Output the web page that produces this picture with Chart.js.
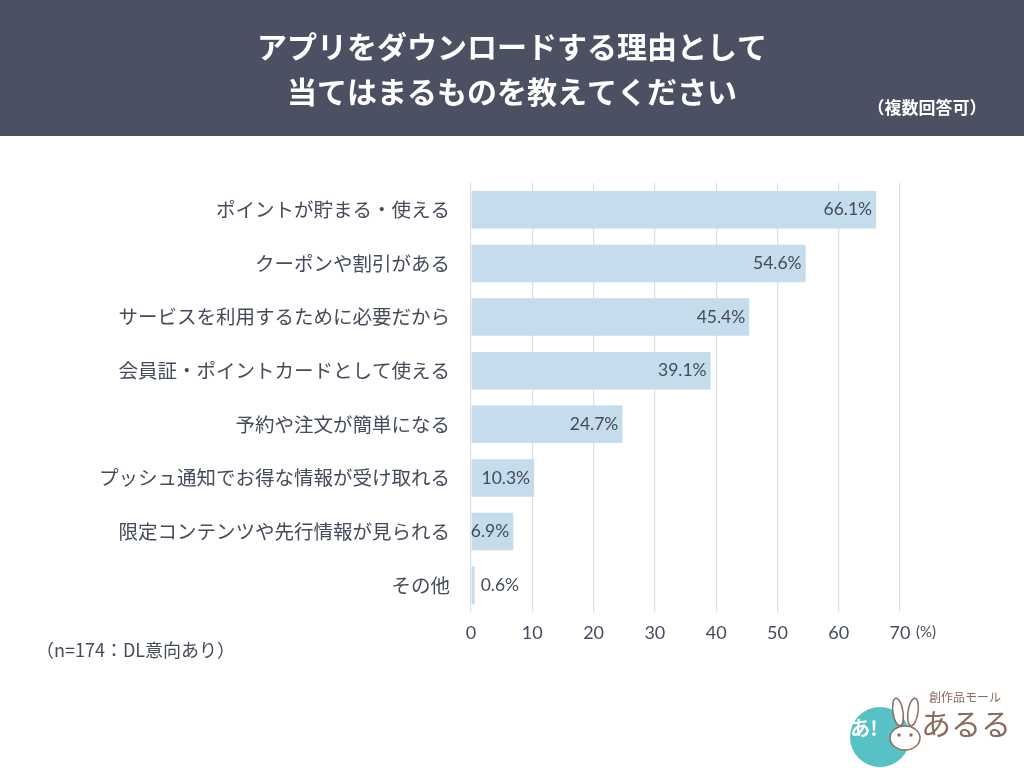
<!DOCTYPE html>
<html lang="ja">
<head>
<meta charset="utf-8">
<title>アプリをダウンロードする理由</title>
<script src="https://cdn.jsdelivr.net/npm/chart.js@4.4.1/dist/chart.umd.min.js"></script>
<style>
  html, body { margin: 0; padding: 0; background: #fff; }
  #wrap { position: relative; width: 1024px; height: 768px; }
</style>
</head>
<body>
<div id="wrap"><canvas id="mycanvas" width="1024" height="768"></canvas></div>
<script>
// data
var reasons = [
  "ポイントが貯まる・使える",
  "クーポンや割引がある",
  "サービスを利用するために必要だから",
  "会員証・ポイントカードとして使える",
  "予約や注文が簡単になる",
  "プッシュ通知でお得な情報が受け取れる",
  "限定コンテンツや先行情報が見られる",
  "その他"
];
var shares = [66.1, 54.6, 45.4, 39.1, 24.7, 10.3, 6.9, 0.6];
var xTicks = [0, 10, 20, 30, 40, 50, 60, 70];

var titleLines = ["アプリをダウンロードする理由として", "当てはまるものを教えてください"];
var titleNote = "（複数回答可）";
var sampleNote = "（n=174：DL意向あり）";

var jp = '"Noto Sans CJK JP", "Noto Sans", sans-serif';
var num = 'Lato, "Noto Sans", sans-serif';
var ink = '#454b5a';

// header band, notes and logo
var decor = {
  id: 'decor',
  beforeDraw: function(chart){
    var c = chart.ctx;
    c.save();
    c.fillStyle = '#fff';
    c.fillRect(0, 0, 1024, 768);
    c.fillStyle = '#4b5162';
    c.fillRect(0, 0, 1024, 136);
    c.fillStyle = '#fff';
    c.textAlign = 'center';
    c.textBaseline = 'middle';
    c.font = 'bold 30px ' + jp;
    c.fillText(titleLines[0], 512, 47);
    c.fillText(titleLines[1], 512, 92);
    c.font = 'bold 17px ' + jp;
    c.fillText(titleNote, 927, 108);
    c.restore();
  },
  afterDraw: function(chart){
    var c = chart.ctx;
    c.save();
    c.fillStyle = ink;
    c.textBaseline = 'middle';
    c.textAlign = 'left';
    c.font = '18px ' + jp;
    c.fillText(sampleNote, 36, 650);
    c.font = '15px ' + num;
    c.fillText('(%)', 916, 632);
    // logo
    c.fillStyle = '#57c1c6';
    c.beginPath();
    c.arc(880, 737, 30, 0, Math.PI * 2);
    c.fill();
    c.fillStyle = '#fff';
    c.font = 'bold 20px ' + jp;
    c.textAlign = 'center';
    c.fillText('あ!', 864, 728);
    // rabbit outline
    c.strokeStyle = '#8b6b5c';
    c.lineWidth = 1.5;
    c.fillStyle = '#fff';
    c.beginPath();
    c.ellipse(898, 712, 5, 14, -0.15, 0, Math.PI * 2);
    c.fill(); c.stroke();
    c.beginPath();
    c.ellipse(913, 712, 5, 14, 0.15, 0, Math.PI * 2);
    c.fill(); c.stroke();
    c.beginPath();
    c.ellipse(905, 738, 15, 12, 0, 0, Math.PI * 2);
    c.fill(); c.stroke();
    c.fillStyle = '#8b6b5c';
    c.beginPath(); c.arc(899, 735, 1.7, 0, Math.PI * 2); c.fill();
    c.beginPath(); c.arc(911, 735, 1.7, 0, Math.PI * 2); c.fill();
    c.font = '12px ' + jp;
    c.fillText('創作品モール', 965, 697);
    c.font = '30px ' + jp;
    c.fillText('あるる', 966, 724);
    c.restore();
  }
};

// value labels at the bar ends
var barLabels = {
  id: 'barLabels',
  afterDatasetsDraw: function(chart){
    var c = chart.ctx;
    var meta = chart.getDatasetMeta(0);
    c.save();
    c.fillStyle = ink;
    c.font = '17.5px ' + num;
    c.textBaseline = 'middle';
    meta.data.forEach(function(bar, i){
      var txt = shares[i].toFixed(1) + '%';
      if (shares[i] < 3) {
        c.textAlign = 'left';
        c.fillText(txt, bar.x + 6, bar.y);
      } else {
        c.textAlign = 'right';
        c.fillText(txt, bar.x - 4, bar.y);
      }
    });
    c.restore();
  }
};

var ctx = document.getElementById('mycanvas');
var barGraph = new Chart(ctx, {
  type: 'bar',
  data: {
    labels: reasons,
    datasets: [{
      data: shares,
      backgroundColor: '#c4dcec',
      barPercentage: 0.7,
      categoryPercentage: 1.0
    }]
  },
  options: {
    indexAxis: 'y',
    responsive: false,
    animation: false,
    layout: { padding: { top: 183, right: 124, bottom: 116, left: 0 } },
    plugins: {
      legend: { display: false },
      title: { display: false },
      tooltip: { enabled: false }
    },
    scales: {
      x: {
        min: 0,
        max: 70,
        afterBuildTicks: function(scale){
          scale.ticks = xTicks.map(function(v){ return { value: v }; });
        },
        afterFit: function(scale){ scale.height = 40; },
        grid: { color: '#dedfe2', drawTicks: false, lineWidth: 1.2 },
        border: { display: false },
        ticks: { color: ink, font: { size: 18, family: num }, padding: 10 }
      },
      y: {
        afterFit: function(scale){ scale.width = 471; },
        grid: { display: false, drawTicks: false },
        border: { display: false },
        ticks: { color: ink, font: { size: 19.5, family: jp }, padding: 21 }
      }
    }
  },
  plugins: [decor, barLabels]
});
</script>
</body>
</html>
